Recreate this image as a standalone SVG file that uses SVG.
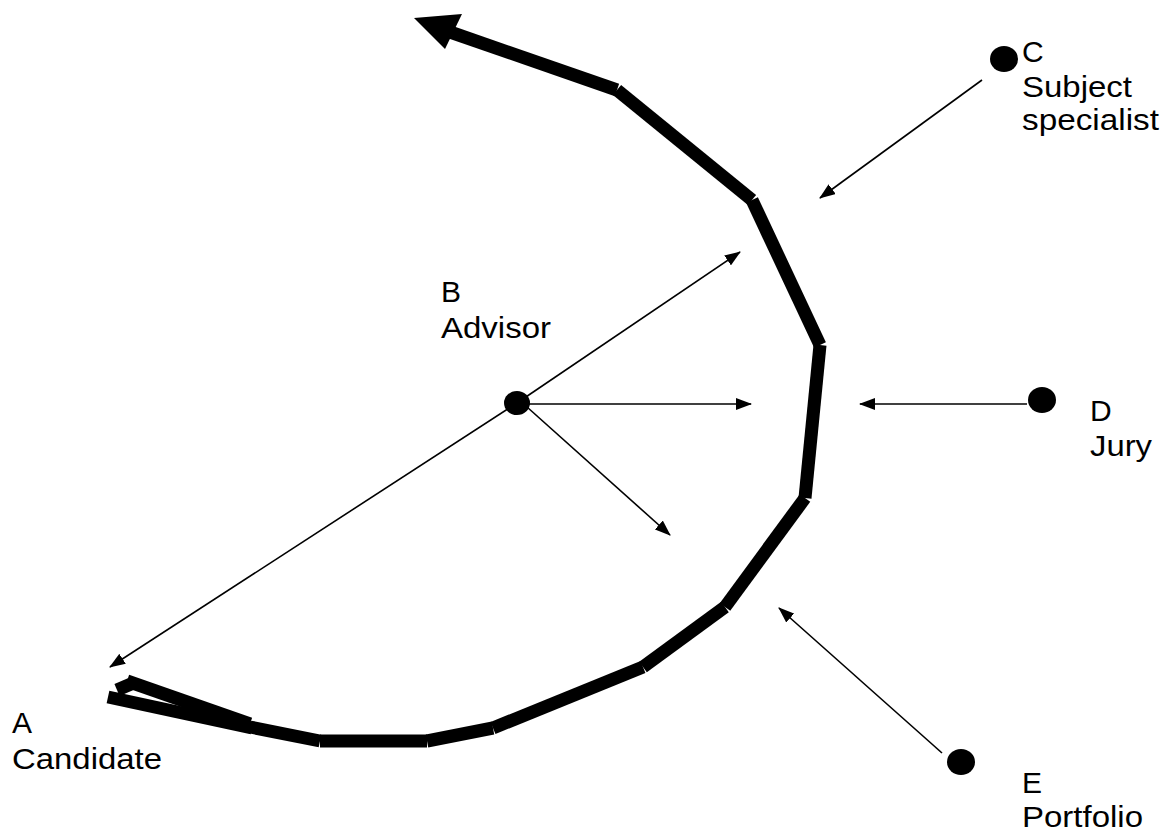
<svg xmlns="http://www.w3.org/2000/svg" width="1170" height="832" viewBox="0 0 1170 832">
<style>
.thick{stroke:#000;stroke-width:13;stroke-linecap:butt;fill:none}
.thin{stroke:#000;stroke-width:1.6;fill:none;marker-end:url(#ah)}
.lbl{font-family:"Liberation Sans",Arial,sans-serif;font-size:30px;fill:#000}
.dot{fill:#000}
</style>
<defs>
<marker id="ah" markerUnits="userSpaceOnUse" markerWidth="16" markerHeight="12" viewBox="0 0 16 12" refX="15" refY="6" orient="auto">
<path d="M0,0 L16,6 L0,12 Z" fill="#000"/>
</marker>
</defs>
<rect width="1170" height="832" fill="#fff"/>
<g id="path-main">
<line class="thick" x1="108" y1="697" x2="252" y2="728"/>
<line class="thick" x1="127" y1="681" x2="250" y2="724"/>
<line class="thick" x1="117" y1="690" x2="131" y2="684"/>
<line class="thick" x1="250" y1="727" x2="320" y2="741"/>
<line class="thick" x1="320" y1="741" x2="427" y2="741"/>
<line class="thick" x1="427" y1="741" x2="493" y2="728"/>
<line class="thick" x1="493" y1="728" x2="643" y2="667"/>
<line class="thick" x1="643" y1="667" x2="725" y2="607"/>
<line class="thick" x1="725" y1="607" x2="805" y2="498"/>
<line class="thick" x1="805" y1="498" x2="820" y2="345"/>
<line class="thick" x1="820" y1="345" x2="752" y2="200"/>
<line class="thick" x1="752" y1="200" x2="617" y2="90"/>
<line class="thick" x1="617" y1="90" x2="450" y2="32"/>
<polygon points="414,18 462,14 445,49" fill="#000"/>
</g>
<g id="connectors">
<line class="thin" x1="517" y1="403" x2="110" y2="667"/>
<line class="thin" x1="517" y1="403" x2="740" y2="252"/>
<line class="thin" x1="528" y1="404" x2="751" y2="404"/>
<line class="thin" x1="527" y1="407" x2="670" y2="535"/>
<line class="thin" x1="982" y1="80" x2="820" y2="198"/>
<line class="thin" x1="1027" y1="404" x2="860" y2="404"/>
<line class="thin" x1="942" y1="753" x2="779" y2="608"/>
</g>
<g id="node-A">
<text class="lbl" x="12" y="733">A</text>
<text class="lbl" x="12" y="769" textLength="150" lengthAdjust="spacingAndGlyphs">Candidate</text>
</g>
<g id="node-B">
<ellipse class="dot" cx="517" cy="403" rx="13" ry="12"/>
<text class="lbl" x="441" y="302">B</text>
<text class="lbl" x="441" y="338" textLength="110" lengthAdjust="spacingAndGlyphs">Advisor</text>
</g>
<g id="node-C">
<ellipse class="dot" cx="1004" cy="59" rx="14" ry="13"/>
<text class="lbl" x="1022" y="62">C</text>
<text class="lbl" x="1022" y="97" textLength="110" lengthAdjust="spacingAndGlyphs">Subject</text>
<text class="lbl" x="1022" y="130" textLength="137" lengthAdjust="spacingAndGlyphs">specialist</text>
</g>
<g id="node-D">
<ellipse class="dot" cx="1042" cy="400" rx="14" ry="13"/>
<text class="lbl" x="1090" y="421">D</text>
<text class="lbl" x="1090" y="456" textLength="62" lengthAdjust="spacingAndGlyphs">Jury</text>
</g>
<g id="node-E">
<ellipse class="dot" cx="961" cy="762" rx="14" ry="13"/>
<text class="lbl" x="1022" y="793">E</text>
<text class="lbl" x="1022" y="827" textLength="121" lengthAdjust="spacingAndGlyphs">Portfolio</text>
</g>
</svg>
